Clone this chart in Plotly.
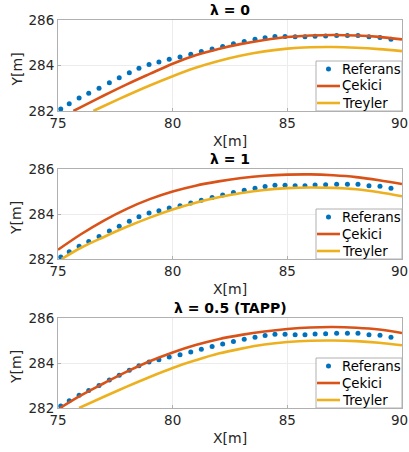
import plotly.graph_objects as go

# ---------------- data ----------------
ref_x = [75.12, 75.49, 75.92, 76.34, 76.79, 77.24, 77.67, 78.11, 78.53, 78.97,
         79.40, 79.85, 80.32, 80.79, 81.25, 81.72, 82.18, 82.65, 83.12, 83.59,
         84.03, 84.46, 84.90, 85.34, 85.77, 86.21, 86.67, 87.15, 87.62, 88.08,
         88.56, 89.04, 89.52]
ref_y = [282.09, 282.32, 282.57, 282.78, 283.00, 283.24, 283.46, 283.68, 283.88, 284.04,
         284.15, 284.27, 284.37, 284.49, 284.61, 284.73, 284.84, 284.96, 285.06, 285.15,
         285.22, 285.28, 285.28, 285.26, 285.26, 285.29, 285.30, 285.32, 285.32, 285.32,
         285.26, 285.23, 285.15]

# lambda = 0
cek0_x = [75.67, 76, 77, 78, 79, 80, 81, 82, 83, 84, 85, 86, 87, 88, 89, 90]
cek0_y = [282.0, 282.17, 282.68, 283.17, 283.63, 284.08, 284.45, 284.73, 284.95, 285.12,
          285.25, 285.32, 285.34, 285.32, 285.26, 285.15]
tre0_x = [76.54, 77, 78, 79, 80, 81, 82, 83, 84, 85, 86, 87, 88, 89, 90]
tre0_y = [282.0, 282.22, 282.68, 283.12, 283.53, 283.90, 284.20, 284.44, 284.62, 284.74,
          284.80, 284.81, 284.78, 284.72, 284.63]

# lambda = 1
cek1_x = [75, 76, 77, 78, 79, 80, 81, 82, 83, 84, 85, 86, 87, 88, 89, 90]
cek1_y = [282.41, 283.10, 283.71, 284.23, 284.66, 285.00, 285.26, 285.45, 285.60, 285.70,
          285.75, 285.76, 285.72, 285.64, 285.50, 285.33]
tre1_x = [75.16, 76, 77, 78, 79, 80, 81, 82, 83, 84, 85, 86, 87, 88, 89, 90]
tre1_y = [282.0, 282.50, 282.98, 283.43, 283.84, 284.20, 284.50, 284.74, 284.93, 285.07,
          285.15, 285.18, 285.16, 285.10, 284.97, 284.79]

# lambda = 0.5 (TAPP)
cek2_x = [75.09, 76, 77, 78, 79, 80, 81, 82, 83, 84, 85, 86, 87, 88, 89, 90]
cek2_y = [282.0, 282.56, 283.10, 283.62, 284.08, 284.47, 284.80, 285.06, 285.25, 285.40,
          285.51, 285.58, 285.60, 285.57, 285.49, 285.33]
tre2_x = [75.92, 77, 78, 79, 80, 81, 82, 83, 84, 85, 86, 87, 88, 89, 90]
tre2_y = [282.0, 282.50, 282.95, 283.38, 283.78, 284.12, 284.42, 284.64, 284.82, 284.93,
          284.99, 285.00, 284.97, 284.90, 284.79]

titles = ["<b>λ = 0</b>", "<b>λ = 1</b>", "<b>λ = 0.5 (TAPP)</b>"]
names = ["Referans", "Çekici", "Treyler"]
x_ticks = [75, 80, 85, 90]
x_ticktext = ["75", "80", "85", ""]   # last label drawn as annotation so it stays inside
x_last_label = "90"
y_ticks = [282, 284, 286]

panels = [(cek0_x, cek0_y, tre0_x, tre0_y),
          (cek1_x, cek1_y, tre1_x, tre1_y),
          (cek2_x, cek2_y, tre2_x, tre2_y)]

# ---------------- style ----------------
C_REF = "#0072BD"
C_CEK = "#D95319"
C_TRE = "#EDB120"
FONT = "DejaVu Sans"
TXT = "#262626"
AXC = "#b0b0b0"

W, H = 409, 452
ML, MR, MT, MB = 58, 7, 20, 44
pw = W - ML - MR
ph = H - MT - MB
rows = [(20, 111), (169, 259), (318, 408)]   # pixel top/bottom of each panel


def px_x(px):
    return (px - ML) / pw


def px_y(py):
    return (H - MB - py) / ph


domains = [[px_y(b), px_y(t)] for t, b in rows]

fig = go.Figure()

for i, (cx, cy, tx, ty) in enumerate(panels):
    xa = "x" if i == 0 else f"x{i+1}"
    ya = "y" if i == 0 else f"y{i+1}"
    fig.add_trace(go.Scatter(x=ref_x, y=ref_y, mode="markers", name=names[0],
                             marker=dict(color=C_REF, size=5), xaxis=xa, yaxis=ya,
                             showlegend=False))
    fig.add_trace(go.Scatter(x=cx, y=cy, mode="lines", name=names[1],
                             line=dict(color=C_CEK, width=2.6, shape="spline"),
                             xaxis=xa, yaxis=ya, showlegend=False))
    fig.add_trace(go.Scatter(x=tx, y=ty, mode="lines", name=names[2],
                             line=dict(color=C_TRE, width=2.6, shape="spline"),
                             xaxis=xa, yaxis=ya, showlegend=False))

layout = dict(
    width=W, height=H,
    margin=dict(l=ML, r=MR, t=MT, b=MB, autoexpand=False),
    paper_bgcolor="white", plot_bgcolor="white",
    font=dict(family=FONT, size=13, color=TXT),
    showlegend=False,
)

axis_common = dict(showline=True, linecolor=AXC, linewidth=1, mirror=True,
                   showgrid=True, gridcolor="#ececec", gridwidth=1,
                   ticks="inside", ticklen=3, tickcolor=AXC, zeroline=False,
                   automargin=False, ticklabeloverflow="allow",
                   tickfont=dict(family=FONT, size=13.5, color=TXT))

annotations = []
shapes = []
for i in range(3):
    top, bot = rows[i]
    xk = "xaxis" if i == 0 else f"xaxis{i+1}"
    yk = "yaxis" if i == 0 else f"yaxis{i+1}"
    anc_x = "y" if i == 0 else f"y{i+1}"
    anc_y = "x" if i == 0 else f"x{i+1}"
    layout[xk] = dict(axis_common, range=[75, 90], tickvals=x_ticks,
                      ticktext=x_ticktext, domain=[0, 1], anchor=anc_x)
    layout[yk] = dict(axis_common, range=[282, 286], tickvals=y_ticks, domain=domains[i],
                      anchor=anc_y)
    # last x tick label, kept inside the picture
    annotations.append(dict(text=x_last_label, x=px_x(409), xref="paper",
                            y=px_y(bot + 12), yref="paper", xanchor="right",
                            yanchor="middle", showarrow=False, borderpad=0,
                            font=dict(family=FONT, size=13.5, color=TXT)))
    # panel title
    annotations.append(dict(text=titles[i], x=0.5, xref="paper", y=px_y(top - 10),
                            yref="paper", yanchor="middle", xanchor="center",
                            showarrow=False,
                            font=dict(family=FONT, size=14, color="black")))
    # axis titles
    annotations.append(dict(text="X[m]", x=0.5, xref="paper", y=px_y(bot + 30),
                            yref="paper", yanchor="middle", xanchor="center",
                            showarrow=False,
                            font=dict(family=FONT, size=14, color=TXT)))
    annotations.append(dict(text="Y[m]", x=px_x(16), xref="paper",
                            y=px_y((top + bot) / 2 + 4), yref="paper",
                            yanchor="middle", xanchor="center", textangle=-90,
                            showarrow=False,
                            font=dict(family=FONT, size=14, color=TXT)))
    # legend box
    shapes.append(dict(type="rect", xref="paper", yref="paper",
                       x0=px_x(316), x1=px_x(402), y0=px_y(bot), y1=px_y(bot - 50),
                       fillcolor="white", line=dict(color=AXC, width=1), layer="above"))
    item_y = [bot - 42, bot - 25, bot - 8]
    # Referans dot
    shapes.append(dict(type="circle", xref="paper", yref="paper",
                       xsizemode="pixel", ysizemode="pixel",
                       xanchor=px_x(328.5), yanchor=px_y(item_y[0]),
                       x0=-2.5, x1=2.5, y0=-2.5, y1=2.5,
                       fillcolor=C_REF, line=dict(width=0), layer="above"))
    for col, yy in [(C_CEK, item_y[1]), (C_TRE, item_y[2])]:
        shapes.append(dict(type="line", xref="paper", yref="paper",
                           x0=px_x(317), x1=px_x(340), y0=px_y(yy), y1=px_y(yy),
                           line=dict(color=col, width=2.6), layer="above"))
    for nm, yy in zip(names, item_y):
        annotations.append(dict(text=nm, x=px_x(340), xref="paper", y=px_y(yy),
                                yref="paper", xanchor="left", yanchor="middle",
                                showarrow=False,
                                font=dict(family=FONT, size=13.3, color="black")))

layout["annotations"] = annotations
layout["shapes"] = shapes
fig.update_layout(**layout)
fig.write_html("out.html", config={"displayModeBar": False},
               post_script="document.body.style.margin='0';")
